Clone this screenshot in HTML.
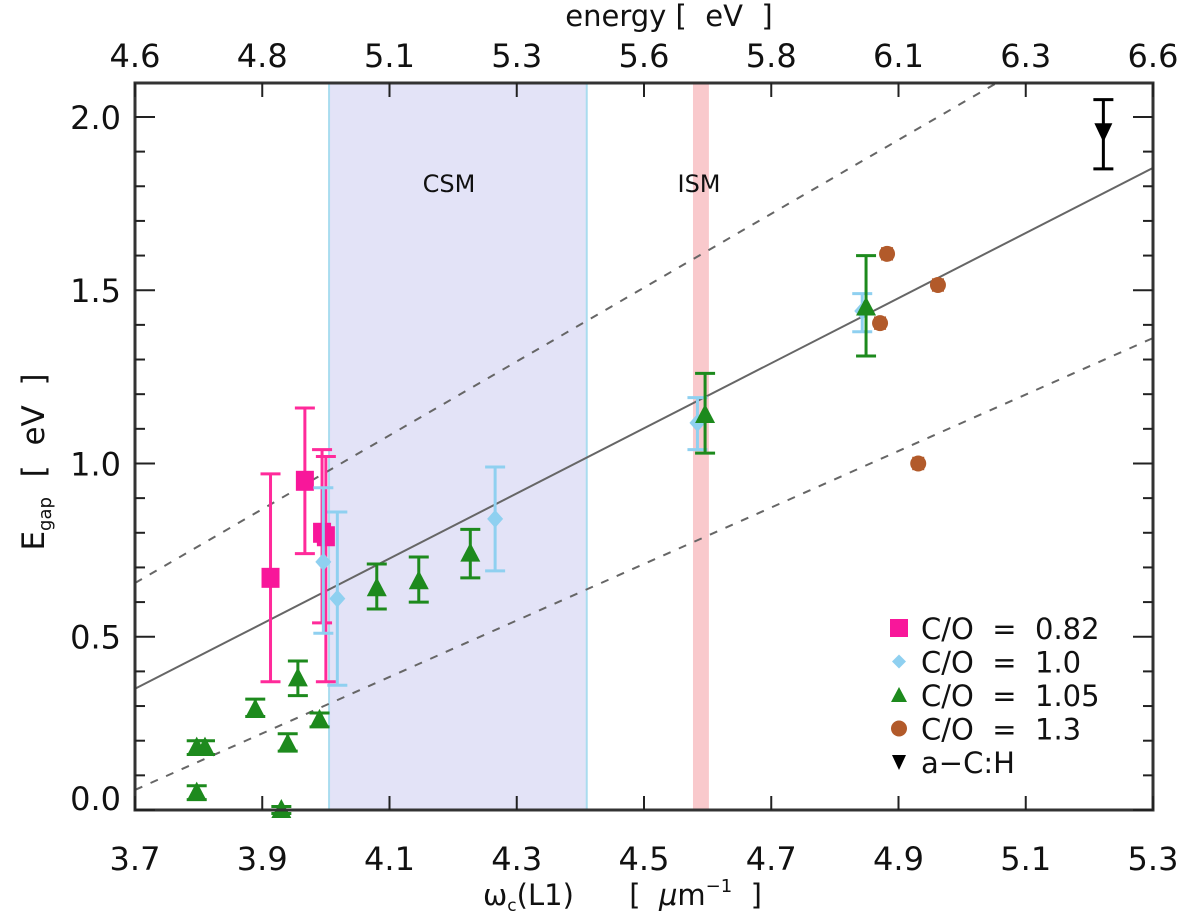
<!DOCTYPE html>
<html><head><meta charset="utf-8"><style>
body{margin:0;background:#fff;}
svg{display:block;font-family:"DejaVu Sans","Liberation Sans",sans-serif;}
</style></head><body>
<svg id="chart" width="1200" height="919" viewBox="0 0 1200 919">
<g id="bg"></g><g id="lines"></g><g id="marks"></g><g id="axes"></g>
</svg>
<script>
const xTicks=[3.7,3.9,4.1,4.3,4.5,4.7,4.9,5.1,5.3];
const xTickLabels=["3.7","3.9","4.1","4.3","4.5","4.7","4.9","5.1","5.3"];
const topTickLabels=["4.6","4.8","5.1","5.3","5.6","5.8","6.1","6.3","6.6"];
const yTicks=[0,0.5,1.0,1.5,2.0];
const yTickLabels=["0.0","0.5","1.0","1.5","2.0"];
const csmBand=[4.005,4.41];
const ismBand=[4.577,4.602];
const fitSolid=[0.35,1.853];
const fitUpper=[0.655,2.36];
const fitLower=[0.058,1.362];
const pinkX=[3.913,3.967,3.994,4.0];
const pinkY=[0.67,0.95,0.80,0.79];
const pinkLo=[0.37,0.74,0.54,0.37];
const pinkHi=[0.97,1.16,1.04,1.02];
const blueX=[3.996,4.018,4.266,4.584,4.843];
const blueY=[0.716,0.61,0.84,1.117,1.44];
const blueLo=[0.51,0.36,0.69,1.04,1.38];
const blueHi=[0.93,0.86,0.99,1.19,1.49];
const greenX=[3.797,3.797,3.81,3.889,3.93,3.94,3.956,3.99,4.08,4.146,4.227,4.596,4.849];
const greenY=[0.05,0.18,0.18,0.29,0.0,0.19,0.38,0.26,0.64,0.66,0.74,1.14,1.45];
const greenLo=[0.03,0.16,0.16,0.27,-0.01,0.17,0.33,0.24,0.58,0.60,0.67,1.03,1.31];
const greenHi=[0.07,0.20,0.20,0.32,0.01,0.22,0.43,0.28,0.71,0.73,0.81,1.26,1.60];
const brownX=[4.882,4.962,4.871,4.931];
const brownY=[1.605,1.515,1.405,1.0];
const blackX=[5.222];const blackY=[1.953];const blackLo=[1.85];const blackHi=[2.05];
const L=135,R=1153,T=83,B=810,XMIN=3.7,XMAX=5.3,YMIN=0,YMAX=2.098;
const sx=v=>L+(v-XMIN)/(XMAX-XMIN)*(R-L);
const sy=v=>B-(v-YMIN)/(YMAX-YMIN)*(B-T);
const NS="http://www.w3.org/2000/svg";
function mk(parent,tag,attrs,text){const e=document.createElementNS(NS,tag);for(const k in attrs)e.setAttribute(k,attrs[k]);if(text!==undefined)e.textContent=text;document.getElementById(parent).appendChild(e);return e;}
let e;
e=mk('bg','rect',{x:sx(csmBand[0]),y:T,width:sx(csmBand[1])-sx(csmBand[0]),height:B-T,fill:'#e3e3f7'});

[csmBand[0],csmBand[1]].forEach(v=>{mk('bg','line',{x1:sx(v),x2:sx(v),y1:T,y2:B,stroke:'#a9dcef','stroke-width':2});});
e=mk('bg','rect',{x:sx(ismBand[0]),y:T,width:sx(ismBand[1])-sx(ismBand[0]),height:B-T,fill:'#f9c9cc'});

e=mk('bg','text',{x:449,y:192,'font-size':24,'text-anchor':'middle',fill:'#111'},'CSM');

e=mk('bg','text',{x:699,y:192,'font-size':24,'text-anchor':'middle',fill:'#111'},'ISM');

const defs=mk('lines','clipPath',{id:'cp'});
const cr=document.createElementNS(NS,'rect');
cr.setAttribute('x',L);cr.setAttribute('y',T);cr.setAttribute('width',R-L);cr.setAttribute('height',B-T);
defs.appendChild(cr);
function fit(arr,dash,name){const l=mk('lines','line',{x1:sx(XMIN),y1:sy(arr[0]),x2:sx(XMAX),y2:sy(arr[1]),stroke:'#666','stroke-width':2,'clip-path':'url(#cp)'});if(dash)l.setAttribute('stroke-dasharray','8,9');

}
fit(fitSolid,false,'fit-line');fit(fitUpper,true,'upper-bound-line');fit(fitLower,true,'lower-bound-line');
function err(x,lo,hi,c,w){mk('marks','line',{x1:sx(x),x2:sx(x),y1:sy(lo),y2:sy(hi),stroke:c,'stroke-width':3});
[lo,hi].forEach(v=>mk('marks','line',{x1:sx(x)-w,x2:sx(x)+w,y1:sy(v),y2:sy(v),stroke:c,'stroke-width':3}));}
function marker(type,x,y,c,name){let m;const X=sx(x),Y=sy(y);
if(type==='sq')m=mk('marks','rect',{x:X-9,y:Y-10,width:18,height:20,fill:c});
else if(type==='dia')m=mk('marks','polygon',{points:`${X},${Y-9} ${X+8},${Y} ${X},${Y+9} ${X-8},${Y}`,fill:c});
else if(type==='tri')m=mk('marks','polygon',{points:`${X},${Y-11} ${X+10},${Y+8} ${X-10},${Y+8}`,fill:c});
else if(type==='circ')m=mk('marks','circle',{cx:X,cy:Y,r:8,fill:c});
else m=mk('marks','polygon',{points:`${X-9},${Y-10} ${X+9},${Y-10} ${X},${Y+9}`,fill:c});

}
pinkX.forEach((x,i)=>{err(x,pinkLo[i],pinkHi[i],'#ff2a9a',10);});
pinkX.forEach((x,i)=>marker('sq',x,pinkY[i],'#f8179a','point-co-0.82'));
blueX.forEach((x,i)=>{err(x,blueLo[i],blueHi[i],'#8fd0f0',10);marker('dia',x,blueY[i],'#8fd0f0','point-co-1.0');});
greenX.forEach((x,i)=>{err(x,greenLo[i],greenHi[i],'#1d8a1d',10);marker('tri',x,greenY[i],'#1d8a1d','point-co-1.05');});
brownX.forEach((x,i)=>{err(x,brownY[i]-0.015,brownY[i]+0.015,'#b25a2a',6);marker('circ',x,brownY[i],'#b25a2a','point-co-1.3');});
blackX.forEach((x,i)=>{err(x,blackLo[i],blackHi[i],'#000',10);marker('inv',x,blackY[i],'#000','point-a-c-h');});
e=mk('axes','rect',{x:L,y:T,width:R-L,height:B-T,fill:'none',stroke:'#333','stroke-width':3});

xTicks.forEach((v,i)=>{const X=sx(v);
mk('axes','line',{x1:X,x2:X,y1:B,y2:B-14,stroke:'#222','stroke-width':2});
mk('axes','line',{x1:X,x2:X,y1:T,y2:T+14,stroke:'#222','stroke-width':2});
let t=mk('axes','text',{x:X,y:870,'font-size':32,'text-anchor':'middle',fill:'#111'},xTickLabels[i]);

t=mk('axes','text',{x:X,y:67,'font-size':32,'text-anchor':'middle',fill:'#111'},topTickLabels[i]);
});
for(let v=0;v<=2.05;v+=0.1){const Y=sy(v);const maj=Math.abs(v*2-Math.round(v*2))<1e-6;
mk('axes','line',{x1:L,x2:L+(maj?20:10),y1:Y,y2:Y,stroke:'#222','stroke-width':2});
mk('axes','line',{x1:R,x2:R-(maj?20:10),y1:Y,y2:Y,stroke:'#222','stroke-width':2});}
yTicks.forEach((v,i)=>{const Y=v===0?798:sy(v);const t=mk('axes','text',{x:121,y:Y+12,'font-size':32,'text-anchor':'end',fill:'#111'},yTickLabels[i]);
});
e=mk('axes','text',{x:669,y:26,'font-size':29,'text-anchor':'middle',fill:'#111'},'energy\u00a0[\u00a0\u00a0eV\u00a0\u00a0]');

e=mk('axes','text',{x:483,y:905,'font-size':29,fill:'#111'});
e.innerHTML='ω<tspan font-size="17" dy="6">c</tspan><tspan dy="-6">(L1)\u00a0\u00a0\u00a0\u00a0\u00a0\u00a0[\u00a0\u00a0</tspan><tspan font-style="italic">μ</tspan><tspan>m</tspan><tspan font-size="18" dy="-13">−1</tspan><tspan dy="13">\u00a0\u00a0]</tspan>';

e=mk('axes','text',{x:0,y:0,'font-size':31,'text-anchor':'middle',fill:'#111',transform:'translate(44,462) rotate(-90)'});
e.innerHTML='E<tspan font-size="18" dy="7">gap</tspan><tspan dy="-7">\u00a0\u00a0[\u00a0\u00a0eV\u00a0\u00a0]</tspan>';

const legTypes=['sq','dia','tri','circ','inv'];
const legColors=['#f8179a','#8fd0f0','#1d8a1d','#b25a2a','#000'];
const legLabels=['C/O\u00a0\u00a0=\u00a0\u00a00.82','C/O\u00a0\u00a0=\u00a0\u00a01.0','C/O\u00a0\u00a0=\u00a0\u00a01.05','C/O\u00a0\u00a0=\u00a0\u00a01.3','a−C:H'];
legLabels.forEach((lab,i)=>{const Y=628+i*33.5;const X=899;let m;
if(legTypes[i]==='sq')m=mk('axes','rect',{x:X-9,y:Y-9,width:18,height:18,fill:legColors[i]});
else if(legTypes[i]==='dia')m=mk('axes','polygon',{points:`${X},${Y-7} ${X+7},${Y} ${X},${Y+7} ${X-7},${Y}`,fill:legColors[i]});
else if(legTypes[i]==='tri')m=mk('axes','polygon',{points:`${X},${Y-8} ${X+8},${Y+7} ${X-8},${Y+7}`,fill:legColors[i]});
else if(legTypes[i]==='circ')m=mk('axes','circle',{cx:X,cy:Y,r:8,fill:legColors[i]});
else m=mk('axes','polygon',{points:`${X-7},${Y-7} ${X+7},${Y-7} ${X},${Y+8}`,fill:legColors[i]});


const t=mk('axes','text',{x:921,y:Y+11,'font-size':29,fill:'#111'},lab);

});
</script>
</body></html>
